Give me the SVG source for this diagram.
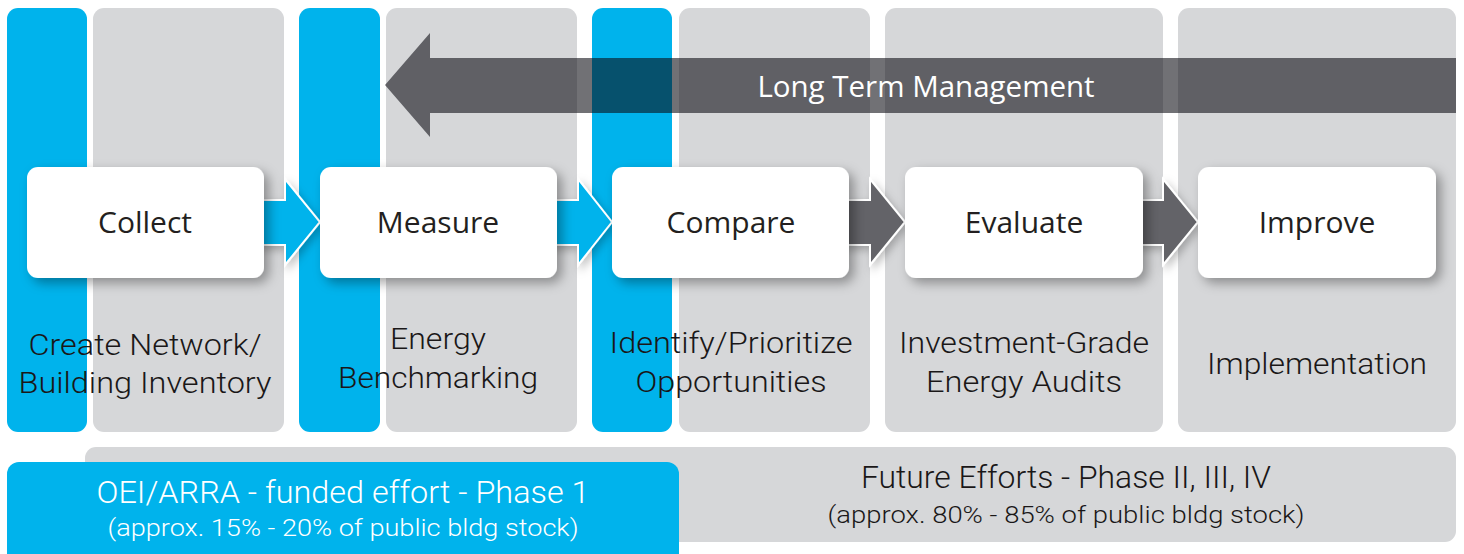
<svg xmlns="http://www.w3.org/2000/svg" width="1464" height="554" viewBox="0 0 1464 554">
  <defs>
    <style>
      .blue { fill: #00b3ec; }
      .gray { fill: #d6d7d9; }
      .box { fill: #ffffff; }
      .title { font-family: "Open Sans", "Noto Sans", sans-serif; font-size: 30px; fill: #231f20; text-anchor: middle; }
      .desc { font-family: Roboto, "Liberation Sans", sans-serif; font-weight: 300; font-size: 30px; fill: #1a1718; text-anchor: middle; }
      .band1 { font-family: Roboto, "Liberation Sans", sans-serif; font-weight: 300; font-size: 31px; text-anchor: middle; }
      .band2 { font-family: Roboto, "Liberation Sans", sans-serif; font-weight: 300; font-size: 24px; text-anchor: middle; }
      .chev-blue { fill: #00b3ec; stroke: #ffffff; stroke-width: 2; stroke-linejoin: miter; }
      .chev-dark { fill: #636468; stroke: #ffffff; stroke-width: 2; stroke-linejoin: miter; }
      .longarrow { fill: #0a0a12; fill-opacity: 0.58; }
      .longlabel { font-family: "Open Sans", "Noto Sans", sans-serif; font-size: 29.5px; fill: #ffffff; text-anchor: middle; }
    </style>
    <filter id="shadow" x="-20%" y="-30%" width="150%" height="180%">
      <feDropShadow dx="5" dy="5" stdDeviation="6" flood-color="#000000" flood-opacity="0.35"/>
    </filter>
    <filter id="chevShadow" x="-30%" y="-30%" width="170%" height="170%">
      <feDropShadow dx="3" dy="4" stdDeviation="4" flood-color="#000000" flood-opacity="0.25"/>
    </filter>
  </defs>

  <rect width="1464" height="554" fill="#ffffff"/>

  <!-- stage columns -->
  <g id="columns">
    <rect class="blue" x="7" y="8" width="80" height="424" rx="11"/>
    <rect class="gray" x="93" y="8" width="191" height="424" rx="11"/>
    <rect class="blue" x="299" y="8" width="81" height="424" rx="11"/>
    <rect class="gray" x="386" y="8" width="191" height="424" rx="11"/>
    <rect class="blue" x="592" y="8" width="80" height="424" rx="11"/>
    <rect class="gray" x="679" y="8" width="191" height="424" rx="11"/>
    <rect class="gray" x="885" y="8" width="278" height="424" rx="11"/>
    <rect class="gray" x="1178" y="8" width="278" height="424" rx="11"/>
  </g>

  <!-- phase bands -->
  <g id="phase-future">
    <rect class="gray" x="85" y="447" width="1371" height="95" rx="11"/>
    <text class="band1" x="1066" y="488" fill="#1a1718" textLength="410" lengthAdjust="spacingAndGlyphs">Future Efforts - Phase II, III, IV</text>
    <text class="band2" x="1066" y="523" fill="#1a1718" textLength="477" lengthAdjust="spacingAndGlyphs">(approx. 80% - 85% of public bldg stock)</text>
  </g>
  <g id="phase-1">
    <rect class="blue" x="7" y="462" width="672" height="110" rx="12"/>
    <text class="band1" x="343" y="503" fill="#ffffff" textLength="493" lengthAdjust="spacingAndGlyphs">OEI/ARRA - funded effort - Phase 1</text>
    <text class="band2" x="343" y="536" fill="#ffffff" textLength="471" lengthAdjust="spacingAndGlyphs">(approx. 15% - 20% of public bldg stock)</text>
  </g>

  <!-- connectors -->
  <g id="connectors">
    <g filter="url(#chevShadow)">
      <path class="chev-blue" d="M258,200 H285 V179 L320,222 L285,265 V245 H258 Z"/>
      <path class="chev-blue" d="M550,200 H578 V179 L612,222 L578,265 V245 H550 Z"/>
      <path class="chev-dark" d="M843,200 H870 V179 L905,222 L870,265 V245 H843 Z"/>
      <path class="chev-dark" d="M1137,200 H1163 V179 L1198,222 L1163,265 V245 H1137 Z"/>
    </g>
    <g id="long-term-management">
      <path class="longarrow" d="M385,85 L430,33 V58 H1456 V113 H430 V137 Z"/>
      <text class="longlabel" x="926" y="97">Long Term Management</text>
    </g>
  </g>

  <!-- process steps -->
  <g id="collect">
    <rect class="box" x="27" y="167" width="237" height="111" rx="11" filter="url(#shadow)"/>
    <text class="title" x="145" y="233">Collect</text>
  </g>
  <g id="measure">
    <rect class="box" x="320" y="167" width="237" height="111" rx="11" filter="url(#shadow)"/>
    <text class="title" x="438" y="233">Measure</text>
  </g>
  <g id="compare">
    <rect class="box" x="612" y="167" width="237" height="111" rx="11" filter="url(#shadow)"/>
    <text class="title" x="731" y="233">Compare</text>
  </g>
  <g id="evaluate">
    <rect class="box" x="905" y="167" width="238" height="111" rx="11" filter="url(#shadow)"/>
    <text class="title" x="1024" y="233">Evaluate</text>
  </g>
  <g id="improve">
    <rect class="box" x="1198" y="167" width="238" height="111" rx="11" filter="url(#shadow)"/>
    <text class="title" x="1317" y="233">Improve</text>
  </g>

  <!-- step descriptions -->
  <g id="desc-collect">
    <text class="desc" x="145" y="355" textLength="233" lengthAdjust="spacingAndGlyphs">Create Network/</text>
    <text class="desc" x="145" y="393" textLength="253" lengthAdjust="spacingAndGlyphs">Building Inventory</text>
  </g>
  <g id="desc-measure">
    <text class="desc" x="438" y="349" textLength="96" lengthAdjust="spacingAndGlyphs">Energy</text>
    <text class="desc" x="438" y="388" textLength="200" lengthAdjust="spacingAndGlyphs">Benchmarking</text>
  </g>
  <g id="desc-compare">
    <text class="desc" x="731" y="353" textLength="243" lengthAdjust="spacingAndGlyphs">Identify/Prioritize</text>
    <text class="desc" x="731" y="392" textLength="191" lengthAdjust="spacingAndGlyphs">Opportunities</text>
  </g>
  <g id="desc-evaluate">
    <text class="desc" x="1024" y="353" textLength="250" lengthAdjust="spacingAndGlyphs">Investment-Grade</text>
    <text class="desc" x="1024" y="392" textLength="196" lengthAdjust="spacingAndGlyphs">Energy Audits</text>
  </g>
  <g id="desc-improve">
    <text class="desc" x="1317" y="374" textLength="220" lengthAdjust="spacingAndGlyphs">Implementation</text>
  </g>
</svg>
